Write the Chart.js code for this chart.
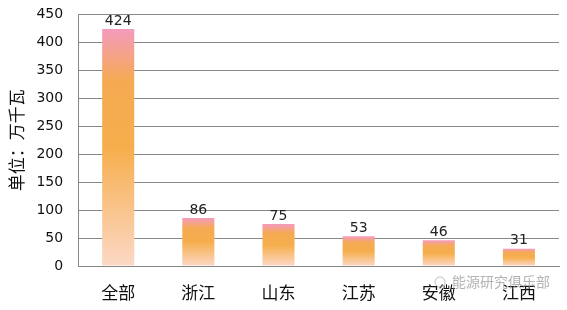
<!DOCTYPE html>
<html>
<head>
<meta charset="utf-8">
<script src="https://cdn.jsdelivr.net/npm/chart.js@4/dist/chart.umd.min.js"></script>
<style>
html,body{margin:0;padding:0;background:#fff;}
#wrap{width:567px;height:310px;position:relative;}
</style>
</head>
<body>
<div id="wrap"><canvas id="c" width="567" height="310"></canvas></div>
<script>
const categories = ['全部', '浙江', '山东', '江苏', '安徽', '江西'];
const values = [424, 86, 75, 53, 46, 31];
const yTitle = '单位：万千瓦';
const watermark = '能源研究俱乐部';

function barGradient(ctx) {
  const chart = ctx.chart;
  if (!chart.chartArea || ctx.raw === undefined) return '#F5AE4A';
  const ys = chart.scales.y;
  const top = ys.getPixelForValue(ctx.raw);
  const bottom = ys.getPixelForValue(0);
  const g = chart.ctx.createLinearGradient(0, top, 0, bottom);
  g.addColorStop(0, '#F49BBE');
  g.addColorStop(0.22, '#F5AA52');
  g.addColorStop(0.5, '#F6AE4C');
  g.addColorStop(1, '#FCD8C6');
  return g;
}

const labelPlugin = {
  id: 'valueLabels',
  afterDatasetsDraw(chart) {
    const c = chart.ctx;
    const meta = chart.getDatasetMeta(0);
    c.save();
    c.font = '14px "DejaVu Sans", sans-serif';
    c.fillStyle = '#222';
    c.textAlign = 'center';
    c.textBaseline = 'bottom';
    meta.data.forEach((bar, i) => {
      c.fillText(String(values[i]), bar.x, bar.y - 1);
    });
    c.restore();
  }
};

const watermarkPlugin = {
  id: 'watermark',
  afterDraw(chart) {
    const c = chart.ctx;
    c.save();
    c.globalAlpha = 0.75;
    c.strokeStyle = '#aaa';
    c.lineWidth = 1;
    c.beginPath();
    c.arc(440, 282, 5, 0, Math.PI * 2);
    c.stroke();
    c.font = '14px "Noto Sans CJK SC", sans-serif';
    c.fillStyle = '#999';
    c.textAlign = 'left';
    c.textBaseline = 'middle';
    c.fillText(watermark, 452, 282);
    c.restore();
  }
};

new Chart(document.getElementById('c'), {
  type: 'bar',
  data: {
    labels: categories,
    datasets: [{
      data: values,
      backgroundColor: barGradient,
      borderWidth: 0,
      barPercentage: 0.4,
      categoryPercentage: 1.0
    }]
  },
  options: {
    responsive: false,
    animation: false,
    devicePixelRatio: 1,
    layout: { padding: { left: 4, right: 8, top: 0, bottom: -8.4 } },
    plugins: { legend: { display: false }, tooltip: { enabled: false } },
    scales: {
      x: {
        grid: { display: false, drawTicks: false },
        border: { color: '#888', width: 1 },
        ticks: {
          color: '#111',
          font: { family: '"Noto Sans CJK SC", sans-serif', size: 17 },
          padding: 16
        }
      },
      y: {
        min: 0, max: 450,
        grid: { color: '#888', lineWidth: 1, drawTicks: true, tickLength: 9, tickColor: 'rgba(0,0,0,0)' },
        border: { color: '#888', width: 1 },
        ticks: {
          stepSize: 50,
          color: '#111',
          font: { family: '"DejaVu Sans", sans-serif', size: 14 },
          padding: 6
        },
        title: {
          display: true,
          text: yTitle,
          color: '#111',
          font: { family: '"Noto Sans CJK SC", sans-serif', size: 17 },
          padding: { top: 2, bottom: 4 }
        }
      }
    }
  },
  plugins: [labelPlugin, watermarkPlugin]
});
</script>
</body>
</html>
